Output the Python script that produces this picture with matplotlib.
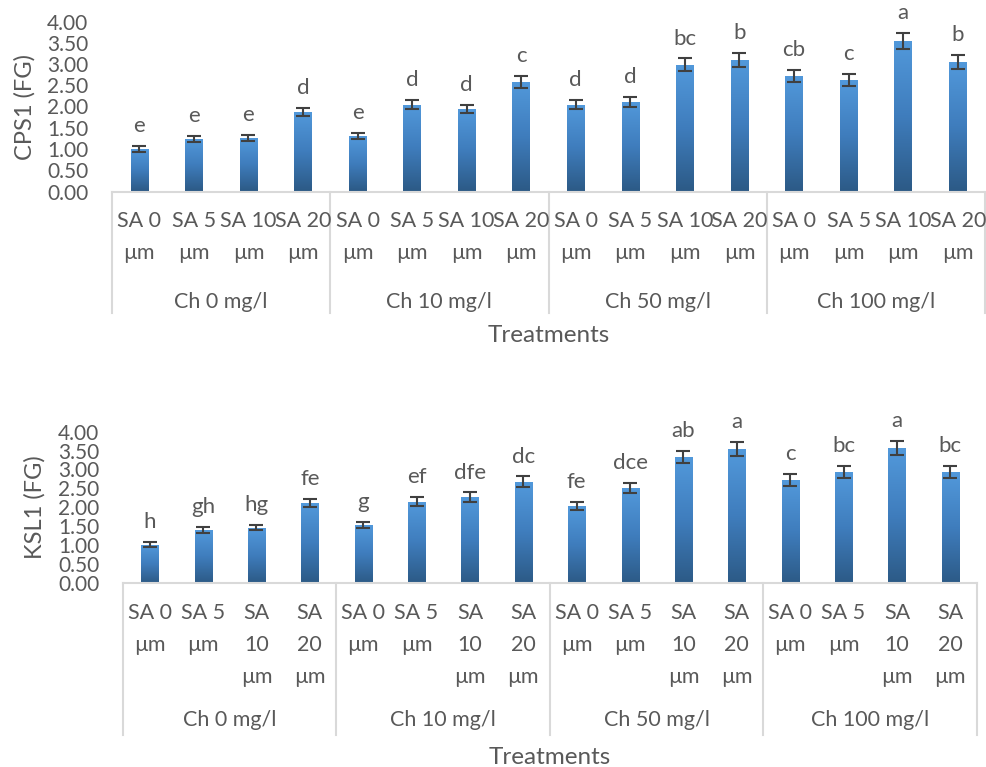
import numpy as np
import matplotlib
matplotlib.use("Agg")
import matplotlib.pyplot as plt
from matplotlib import transforms
from matplotlib.colors import LinearSegmentedColormap

matplotlib.rcParams['font.family'] = ['Lato', 'DejaVu Sans']

# --- data ---
sa_levels = ["SA 0\nµm", "SA 5\nµm", "SA 10\nµm", "SA 20\nµm"]
sa_levels_wrapped = ["SA 0\nµm", "SA 5\nµm", "SA\n10\nµm", "SA\n20\nµm"]
ch_groups = ["Ch 0 mg/l", "Ch 10 mg/l", "Ch 50 mg/l", "Ch 100 mg/l"]

cps1_mean = [1.00, 1.24, 1.27, 1.87, 1.31, 2.04, 1.94, 2.58,
             2.04, 2.11, 2.98, 3.09, 2.72, 2.62, 3.54, 3.05]
cps1_err = [0.063, 0.07, 0.07, 0.10, 0.075, 0.11, 0.10, 0.14,
            0.105, 0.11, 0.15, 0.16, 0.145, 0.14, 0.185, 0.16]
cps1_letters = ["e", "e", "e", "d", "e", "d", "d", "c",
                "d", "d", "bc", "b", "cb", "c", "a", "b"]

ksl1_mean = [1.01, 1.40, 1.46, 2.11, 1.54, 2.15, 2.27, 2.67,
             2.03, 2.51, 3.33, 3.54, 2.72, 2.93, 3.57, 2.93]
ksl1_err = [0.066, 0.08, 0.075, 0.10, 0.08, 0.11, 0.12, 0.145,
            0.11, 0.13, 0.17, 0.185, 0.15, 0.16, 0.185, 0.155]
ksl1_letters = ["h", "gh", "hg", "fe", "g", "ef", "dfe", "dc",
                "fe", "dce", "ab", "a", "c", "bc", "a", "bc"]

W, H = 987, 767
TXT = '#595959'
GRID = '#D9D9D9'
bar_cmap = LinearSegmentedColormap.from_list('bar', ['#2C5A86', '#3F7DBD', '#5299DB'])


def fy(px):
    return 1 - px / H


def draw_panel(ax, means, errs, letters, ticklabels, ylabel,
               tick_rows_px, group_px, sep_bottom_px, xlabel_px, ylabel_x_px):
    fig = ax.figure
    x = np.arange(len(means))
    bars = ax.bar(x, means, width=0.32, color='none', edgecolor='none', zorder=2)
    grad = np.linspace(1, 0, 256).reshape(-1, 1)
    for b in bars:
        x0, w, h = b.get_x(), b.get_width(), b.get_height()
        im = ax.imshow(grad, cmap=bar_cmap, extent=[x0, x0 + w, 0, h],
                       aspect='auto', zorder=2, interpolation='bilinear')
        im.set_clip_path(b)
    ax.errorbar(x, means, yerr=errs, fmt='none', ecolor='#404040',
                elinewidth=1.5, capsize=4.7, capthick=1.5, zorder=3)
    for xi, m, e, lab in zip(x, means, errs, letters):
        ax.annotate(lab, xy=(xi, m + e), xytext=(0, 10), textcoords='offset points',
                    ha='center', va='baseline', fontsize=16, color=TXT)

    ax.set_xlim(-0.5, len(means) - 0.5)
    ax.set_ylim(0, 4)
    ax.set_yticks(np.arange(0, 4.01, 0.5))
    ax.set_yticklabels([f"{v:.2f}" for v in np.arange(0, 4.01, 0.5)])
    ax.tick_params(axis='y', length=0, pad=17, labelsize=15, labelcolor=TXT)
    ax.set_xticks([])
    for s in ['top', 'right', 'left']:
        ax.spines[s].set_visible(False)
    ax.spines['bottom'].set_color(GRID)
    ax.spines['bottom'].set_linewidth(1.5)
    ax.set_ylabel(ylabel, fontsize=17, color=TXT, va='center')
    ax.yaxis.set_label_coords(ylabel_x_px / W, 0.5,
                              transform=transforms.blended_transform_factory(
                                  fig.transFigure, ax.transAxes))

    tr = transforms.blended_transform_factory(ax.transData, fig.transFigure)
    for xi in x:
        ax.text(xi, fy(tick_rows_px), ticklabels[xi % 4], transform=tr, ha='center',
                va='top', fontsize=15.5, color=TXT, linespacing=1.75, clip_on=False)
    for g, name in enumerate(ch_groups):
        ax.text(g * 4 + 1.5, fy(group_px), name, transform=tr, ha='center',
                va='center', fontsize=15.5, color=TXT, clip_on=False)
    bottom_y = ax.get_position().y0
    for bx in np.arange(-0.5, len(means), 4):
        ax.plot([bx, bx], [bottom_y, fy(sep_bottom_px)], transform=tr,
                color=GRID, lw=1.5, clip_on=False)
    ax.text(0.5, fy(xlabel_px), "Treatments", transform=transforms.blended_transform_factory(
        ax.transAxes, fig.transFigure), ha='center', va='center', fontsize=17.5, color=TXT)


fig = plt.figure(figsize=(W / 100, H / 100), dpi=100)
ax1 = fig.add_axes([112 / W, fy(191.5), 873 / W, 170 / H])
ax2 = fig.add_axes([123 / W, fy(582.7), 854 / W, 151 / H])

draw_panel(ax1, cps1_mean, cps1_err, cps1_letters, sa_levels, "CPS1 (FG)",
           tick_rows_px=211, group_px=302, sep_bottom_px=313, xlabel_px=336,
           ylabel_x_px=25)
draw_panel(ax2, ksl1_mean, ksl1_err, ksl1_letters, sa_levels_wrapped, "KSL1 (FG)",
           tick_rows_px=603, group_px=720, sep_bottom_px=735, xlabel_px=757,
           ylabel_x_px=35)

fig.savefig("out.png", dpi=100)
